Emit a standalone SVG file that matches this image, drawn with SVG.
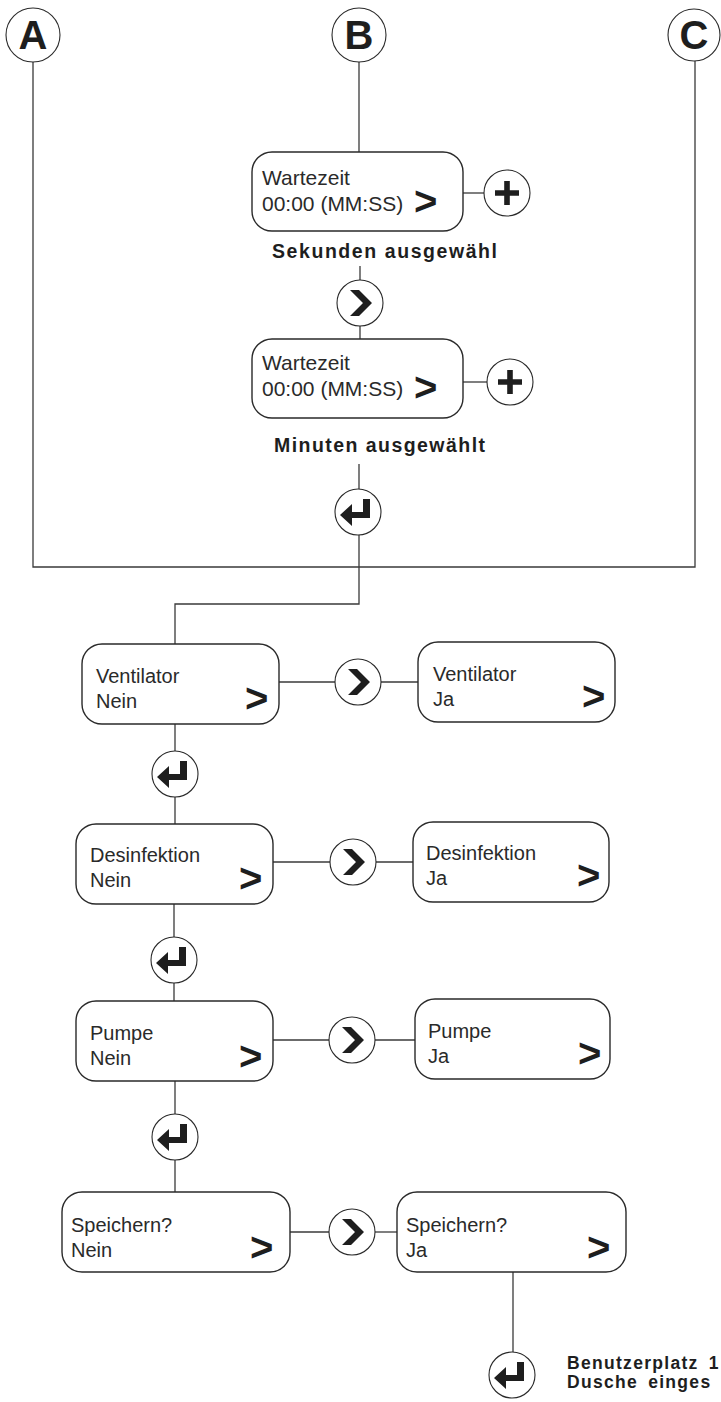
<svg xmlns="http://www.w3.org/2000/svg" width="721" height="1402" viewBox="0 0 721 1402">
<style>
.bg{fill:#ffffff}
.ln{fill:none;stroke:#3a3a3a;stroke-width:1.3}
.box{fill:#ffffff;stroke:#2a2a2a;stroke-width:1.4}
.btn{fill:#ffffff;stroke:#2a2a2a;stroke-width:1.1}
.ico{fill:#1e1e1e;stroke:none}
.t{font-family:"Liberation Sans",Arial,sans-serif;font-size:20px;fill:#2a2a2a}
.tw{font-size:21px}
.gt{font-family:"Liberation Sans",Arial,sans-serif;font-size:40px;font-weight:bold;fill:#1e1e1e}
.lb{font-family:"Liberation Sans",Arial,sans-serif;font-size:19.5px;font-weight:bold;fill:#1e1e1e}
.lb2{font-family:"Liberation Sans",Arial,sans-serif;font-size:17.5px;font-weight:bold;fill:#1e1e1e;letter-spacing:1.3px;word-spacing:4px}
.big{font-family:"Liberation Sans",Arial,sans-serif;font-size:40px;font-weight:bold;fill:#1e1e1e;text-anchor:middle}
</style>
<defs>
<path id="chev" d="M-10,-13 L-1,-13 L12,0 L-1,13 L-10,13 L3,0 Z"/>
<path id="enter" d="M12,-13 L12,6 L-6,6 L-6,14 L-18,3 L-6,-8 L-6,0 L5,0 L5,-13 Z"/>
<path id="plus" d="M-2.8,-12 L2.8,-12 L2.8,-2.8 L12,-2.8 L12,2.8 L2.8,2.8 L2.8,12 L-2.8,12 L-2.8,2.8 L-12,2.8 L-12,-2.8 L-2.8,-2.8 Z"/>
</defs>
<rect class="bg" x="0" y="0" width="721" height="1402"/>

<g id="connectors">
<polyline class="ln" points="33,62 33,567 695,567 695,61"/>
<line class="ln" x1="359" y1="62" x2="359" y2="152"/>
<line class="ln" x1="463" y1="193" x2="484" y2="193"/>
<line class="ln" x1="360" y1="266" x2="360" y2="280"/>
<line class="ln" x1="360" y1="326" x2="360" y2="339"/>
<line class="ln" x1="462" y1="382" x2="487" y2="382"/>
<line class="ln" x1="359" y1="464" x2="359" y2="489"/>
<polyline class="ln" points="359,535 359,604 175,604 175,644"/>
<line class="ln" x1="279" y1="682" x2="335" y2="682"/>
<line class="ln" x1="381" y1="682" x2="418" y2="682"/>
<line class="ln" x1="175" y1="724" x2="175" y2="751"/>
<line class="ln" x1="175" y1="797" x2="175" y2="824"/>
<line class="ln" x1="273" y1="862" x2="330" y2="862"/>
<line class="ln" x1="376" y1="862" x2="413" y2="862"/>
<line class="ln" x1="174" y1="904" x2="174" y2="937"/>
<line class="ln" x1="174" y1="983" x2="174" y2="1001"/>
<line class="ln" x1="273" y1="1040" x2="329" y2="1040"/>
<line class="ln" x1="375" y1="1040" x2="415" y2="1040"/>
<line class="ln" x1="175" y1="1081" x2="175" y2="1114"/>
<line class="ln" x1="175" y1="1160" x2="175" y2="1192"/>
<line class="ln" x1="290" y1="1232" x2="329" y2="1232"/>
<line class="ln" x1="375" y1="1232" x2="397" y2="1232"/>
<line class="ln" x1="513" y1="1272" x2="513" y2="1352"/>
</g>

<g id="nodeA"><circle class="btn" cx="33" cy="35" r="27"/><text class="big" x="33" y="49">A</text></g>
<g id="nodeB"><circle class="btn" cx="359" cy="35" r="27"/><text class="big" x="359" y="49">B</text></g>
<g id="nodeC"><circle class="btn" cx="694" cy="35" r="26"/><text class="big" x="694" y="49">C</text></g>

<g id="wartezeit1">
<rect class="box" x="252" y="152" width="211" height="79" rx="20"/>
<text class="t tw" x="262" y="185">Wartezeit</text>
<text class="t tw" x="262" y="211">00:00 (MM:SS)</text>
<text class="gt" x="414" y="215">&gt;</text>
</g>
<g id="plus1"><circle class="btn" cx="507" cy="193" r="23"/><use class="ico" href="#plus" x="507" y="193"/></g>
<text id="sekunden" class="lb" x="272" y="258" textLength="225" lengthAdjust="spacing">Sekunden ausgewähl</text>
<g id="chev0"><circle class="btn" cx="360" cy="303" r="23"/><use class="ico" href="#chev" x="360" y="303"/></g>

<g id="wartezeit2">
<rect class="box" x="252" y="339" width="211" height="79" rx="20"/>
<text class="t tw" x="262" y="370">Wartezeit</text>
<text class="t tw" x="262" y="396">00:00 (MM:SS)</text>
<text class="gt" x="414" y="401">&gt;</text>
</g>
<g id="plus2"><circle class="btn" cx="510" cy="382" r="23"/><use class="ico" href="#plus" x="510" y="382"/></g>
<text id="minuten" class="lb" x="274" y="452" textLength="211" lengthAdjust="spacing">Minuten ausgewählt</text>
<g id="enter0"><circle class="btn" cx="358" cy="512" r="23"/><use class="ico" href="#enter" x="358" y="512"/></g>

<g id="ventNein">
<rect class="box" x="82" y="644" width="197" height="80" rx="20"/>
<text class="t" x="96" y="683">Ventilator</text>
<text class="t" x="96" y="708">Nein</text>
<text class="gt" x="245" y="712">&gt;</text>
</g>
<g id="chev1"><circle class="btn" cx="358" cy="682" r="23"/><use class="ico" href="#chev" x="358" y="682"/></g>
<g id="ventJa">
<rect class="box" x="418" y="642" width="197" height="80" rx="20"/>
<text class="t" x="433" y="681">Ventilator</text>
<text class="t" x="433" y="706">Ja</text>
<text class="gt" x="582" y="710">&gt;</text>
</g>
<g id="enter1"><circle class="btn" cx="175" cy="774" r="23"/><use class="ico" href="#enter" x="175" y="774"/></g>

<g id="desNein">
<rect class="box" x="76" y="824" width="197" height="80" rx="20"/>
<text class="t" x="90" y="862">Desinfektion</text>
<text class="t" x="90" y="887">Nein</text>
<text class="gt" x="239" y="892">&gt;</text>
</g>
<g id="chev2"><circle class="btn" cx="353" cy="862" r="23"/><use class="ico" href="#chev" x="353" y="862"/></g>
<g id="desJa">
<rect class="box" x="413" y="822" width="196" height="80" rx="20"/>
<text class="t" x="426" y="860">Desinfektion</text>
<text class="t" x="426" y="885">Ja</text>
<text class="gt" x="577" y="889">&gt;</text>
</g>
<g id="enter2"><circle class="btn" cx="174" cy="960" r="23"/><use class="ico" href="#enter" x="174" y="960"/></g>

<g id="pumpeNein">
<rect class="box" x="76" y="1001" width="197" height="80" rx="20"/>
<text class="t" x="90" y="1040">Pumpe</text>
<text class="t" x="90" y="1065">Nein</text>
<text class="gt" x="239" y="1070">&gt;</text>
</g>
<g id="chev3"><circle class="btn" cx="352" cy="1040" r="23"/><use class="ico" href="#chev" x="352" y="1040"/></g>
<g id="pumpeJa">
<rect class="box" x="415" y="999" width="195" height="80" rx="20"/>
<text class="t" x="428" y="1038">Pumpe</text>
<text class="t" x="428" y="1063">Ja</text>
<text class="gt" x="578" y="1067">&gt;</text>
</g>
<g id="enter3"><circle class="btn" cx="175" cy="1137" r="23"/><use class="ico" href="#enter" x="175" y="1137"/></g>

<g id="speNein">
<rect class="box" x="62" y="1192" width="228" height="80" rx="20"/>
<text class="t" x="71" y="1232">Speichern?</text>
<text class="t" x="71" y="1257">Nein</text>
<text class="gt" x="250" y="1261">&gt;</text>
</g>
<g id="chev4"><circle class="btn" cx="352" cy="1232" r="23"/><use class="ico" href="#chev" x="352" y="1232"/></g>
<g id="speJa">
<rect class="box" x="397" y="1192" width="229" height="80" rx="20"/>
<text class="t" x="406" y="1232">Speichern?</text>
<text class="t" x="406" y="1257">Ja</text>
<text class="gt" x="587" y="1261">&gt;</text>
</g>
<g id="enter4"><circle class="btn" cx="512" cy="1375" r="23"/><use class="ico" href="#enter" x="512" y="1375"/></g>
<g id="endText">
<text class="lb2" x="567" y="1369">Benutzerplatz 1</text>
<text class="lb2" x="567" y="1388">Dusche einges</text>
</g>
</svg>
